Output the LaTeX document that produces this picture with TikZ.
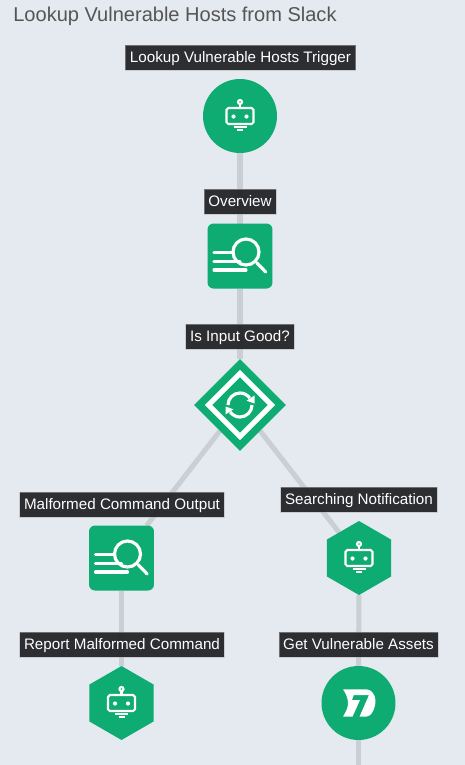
\documentclass[tikz,border=0pt]{standalone}
\usepackage{fontspec}
\setmainfont{Liberation Sans}
\usetikzlibrary{arrows.meta,positioning,shapes.geometric,calc,backgrounds}

\definecolor{pagebg}{HTML}{E4EAEF}
\definecolor{stepgreen}{HTML}{0EAB72}
\definecolor{edgegray}{HTML}{CACFD3}
\definecolor{tagdark}{HTML}{1E1F22}
\definecolor{titlegray}{HTML}{555555}

\tikzset{
  % icons are drawn in pixels of the reference
  pics/boticon/.style={code={
    \draw[iconline, rounded corners=1pt] (-13.5,-8) rectangle (13.5,8);
    \draw[iconline] (0,-8) -- (0,-12);
    \draw[iconline] (0,-14) circle (2);
    \fill[white] (-6.5,0.5) circle (2.1) (6.5,0.5) circle (2.1);
    \draw[iconline] (-6.5,11) -- (6.5,11);
    \draw[iconline] (-3,14) -- (3,14);
  }},
  pics/searchicon/.style={code={
    \draw[iconthick] (6,-4) circle (13);
    \draw[iconthick, line cap=round] (16.7,6.7) -- (25.7,16);
    \draw[iconthick, line cap=round] (-26,-3.7) -- (-7,-3.7);
    \draw[iconthick, line cap=round] (-26,5.7) -- (0,5.7);
    \draw[iconthick, line cap=round] (-26,14) -- (6,14);
  }},
  pics/syncicon/.style={code={
    \draw[white, line width=3pt] (0,-31.5) -- (31.5,0) -- (0,31.5) -- (-31.5,0) -- cycle;
    \draw[iconthick] (-12,0) arc[start angle=180, end angle=325, radius=12];
    \draw[iconthick] (12,0) arc[start angle=0, end angle=145, radius=12];
    \fill[white] (14.5,-9.5) -- (14.5,-1.5) -- (6.5,-4.3) -- cycle;
    \fill[white] (-14.5,9.5) -- (-14.5,1.5) -- (-6.5,4.3) -- cycle;
  }},
  pics/sevenicon/.style={code={
    \fill[white] (-15.5,-13.7) -- (7.8,-13.7)
      .. controls (13,-13.7) and (17,-8) .. (17,-2.3)
      .. controls (17,5) and (13,13.7) .. (7.8,13.7)
      -- (1,13.7) -- (10.5,-8) -- (-4.8,-8) -- (-6.5,-3) -- (1.5,-3) -- (-6,13.7) -- (-15.5,13.7)
      .. controls (-12,8) and (-10,3) .. (-10.5,-1)
      .. controls (-11,-6) and (-13,-10) .. (-15.5,-13.7) -- cycle;
  }}
}

\begin{document}
\begin{tikzpicture}[x=0.02cm, y=-0.02cm, font=\fontsize{8.65pt}{10pt}\selectfont,
  iconline/.style={draw=white, line width=1.2pt},
  iconthick/.style={draw=white, line width=1.8pt},
  edge/.style={draw=edgegray, line width=2.85pt},
  tag/.style={fill=tagdark, fill opacity=0.92, text opacity=1, text=white,
              draw=gray!60, draw opacity=0.5, line width=0.2pt,
              minimum height=0.5cm, text height=7.8pt, text depth=1.8pt,
              inner ysep=0pt, inner xsep=0.09cm},
  roundst/.style={circle, fill=stepgreen, minimum size=1.48cm, inner sep=0pt, outer sep=0pt},
  squarest/.style={rectangle, fill=stepgreen, rounded corners=3.4pt, minimum size=1.3cm, inner sep=0pt, outer sep=0pt},
  hexst/.style={regular polygon, regular polygon sides=6, shape border rotate=30,
                fill=stepgreen, minimum size=1.48cm, inner sep=0pt, outer sep=0pt},
  decst/.style={diamond, aspect=1, fill=stepgreen, minimum width=1.84cm, minimum height=1.84cm, inner sep=0pt, outer sep=0pt}]
  \useasboundingbox (0,0) rectangle (465,765);

  \node[anchor=west, text=titlegray, inner sep=0pt, font=\fontsize{11.4pt}{13pt}\selectfont] (title) at (13,16)
    {Lookup Vulnerable Hosts from Slack};

  \node[roundst]  (trigger) at (240,116)   {};
  \node[squarest] (overview) at (240,256)  {};
  \node[decst]    (isgood) at (240,405)    {};
  \node[squarest] (malformed) at (121.5,558) {};
  \node[hexst]    (report) at (121.5,703)  {};
  \node[hexst]    (searching) at (359,558) {};
  \node[roundst]  (assets) at (358.5,703)  {};
  \coordinate (tail) at (358.5,765);

  \foreach \where in {trigger,report,searching}
    \pic at (\where) {boticon};
  \foreach \where in {overview,malformed}
    \pic at (\where) {searchicon};
  \pic at (isgood) {syncicon};
  \pic at (assets) {sevenicon};

  \begin{scope}[on background layer]
    \fill[pagebg] (0,0) rectangle (465,765);
    \draw[edge] (trigger) -- (overview);
    \draw[edge] (overview) -- (isgood);
    \draw[edge] (isgood) -- (malformed);
    \draw[edge] (isgood) -- (searching);
    \draw[edge] (malformed) -- (report);
    \draw[edge] (searching) -- (assets);
    \draw[edge] (assets) -- (tail);
  \end{scope}

  \node[tag] (triggertag) at (240.5,57.5) {Lookup Vulnerable Hosts Trigger};
  \node[tag] (overviewtag) at (240,201.5) {Overview};
  \node[tag] (isgoodtag) at (240,336.5) {Is Input Good?};
  \node[tag] (malformedtag) at (122,504.5) {Malformed Command Output};
  \node[tag] (reporttag) at (122,644.5) {Report Malformed Command};
  \node[tag] (searchingtag) at (359,499.5) {Searching Notification};
  \node[tag] (assetstag) at (358.5,644.5) {Get Vulnerable Assets};
\end{tikzpicture}
\end{document}
